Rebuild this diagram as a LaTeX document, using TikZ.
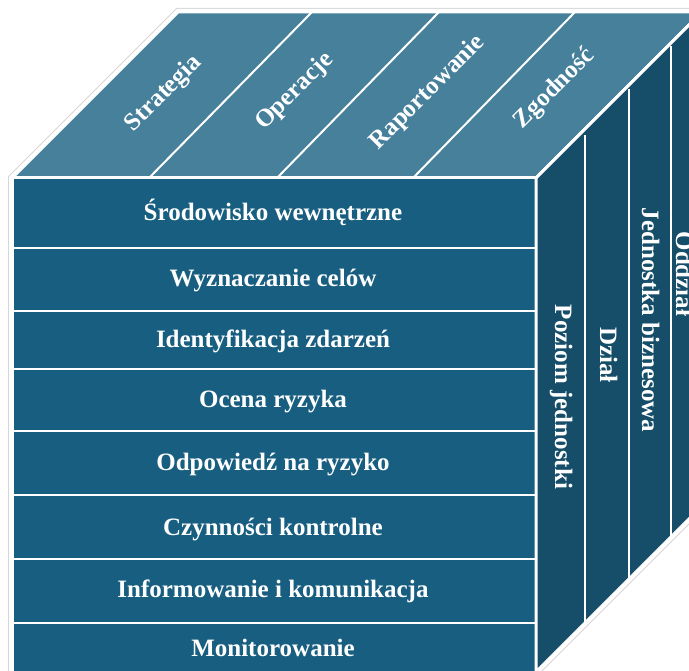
\documentclass[tikz,border=0pt]{standalone}
\usepackage{fontspec}
\setmainfont{Liberation Serif}
\definecolor{frontcol}{HTML}{175E80}
\definecolor{topcol}{HTML}{47809B}
\definecolor{sidecol}{HTML}{164D68}
\definecolor{rimcol}{HTML}{D6D6D6}
\begin{document}
\begin{tikzpicture}[x=1pt,y=-1pt,
  face/.style={draw=white,line width=3pt,line join=miter},
  sep/.style={draw=white,line width=2.4pt},
  lbl/.style={text=white,inner sep=0pt,anchor=base,font=\fontsize{25}{30}\selectfont\bfseries},
  rowlabel/.style={lbl},
  toplabel/.style={lbl,rotate=45},
  sidelabel/.style={lbl,rotate=-90}]
\useasboundingbox (0,0) rectangle (689,671);
\clip (0,0) rectangle (689,671);

% light rim around the whole block
\draw[rimcol,line width=8pt,line join=miter]
  (12,178)--(178,12)--(702,12)--(702,506)--(536,672)--(12,672)--cycle;
\filldraw[white,line width=6pt,line join=miter]
  (12,178)--(178,12)--(702,12)--(702,506)--(536,672)--(12,672)--cycle;

% faces
\filldraw[face,fill=topcol] (12,178)--(178,12)--(702,12)--(536,178)--cycle;
\filldraw[face,fill=frontcol] (12,178) rectangle (536,672);
\filldraw[face,fill=sidecol] (536,178)--(702,12)--(702,506)--(536,672)--cycle;

% top face strips
\draw[sep,line width=2pt] (149,178)--(312,12);
\draw[sep,line width=2pt] (277,178)--(439,12);
\draw[sep,line width=2pt] (413,178)--(575,12);

% right face strips
\draw[sep,line width=2pt] (585,135)--(585,623);
\draw[sep,line width=2pt] (629,89)--(629,579);
\draw[sep,line width=2pt] (671,46)--(671,537);

% front face rows
\foreach \yy in {248,311,369,431,495,559,623}
  \draw[sep] (12,\yy)--(536,\yy);

% front labels
\node[rowlabel] (r1) at (273,221) {Środowisko wewnętrzne};
\node[rowlabel] (r2) at (273,287) {Wyznaczanie celów};
\node[rowlabel] (r3) at (273,348) {Identyfikacja zdarzeń};
\node[rowlabel] (r4) at (273,408) {Ocena ryzyka};
\node[rowlabel] (r5) at (273,471) {Odpowiedź na ryzyko};
\node[rowlabel] (r6) at (273,535) {Czynności kontrolne};
\node[rowlabel] (r7) at (273,597) {Informowanie i komunikacja};
\node[rowlabel] (r8) at (273,656) {Monitorowanie};

% top labels
\node[toplabel] (t1) at (168,98) {Strategia};
\node[toplabel] (t2) at (299,96) {Operacje};
\node[toplabel] (t3) at (432,97) {Raportowanie};
\node[toplabel] (t4) at (559,93) {Zgodność};

% right face labels
\node[sidelabel] (s1) at (555,397) {Poziom jednostki};
\node[sidelabel] (s2) at (600,355) {Dział};
\node[sidelabel] (s3) at (642,320) {Jednostka biznesowa};
\node[sidelabel] (s4) at (676,274) {Oddział};
\end{tikzpicture}
\end{document}
